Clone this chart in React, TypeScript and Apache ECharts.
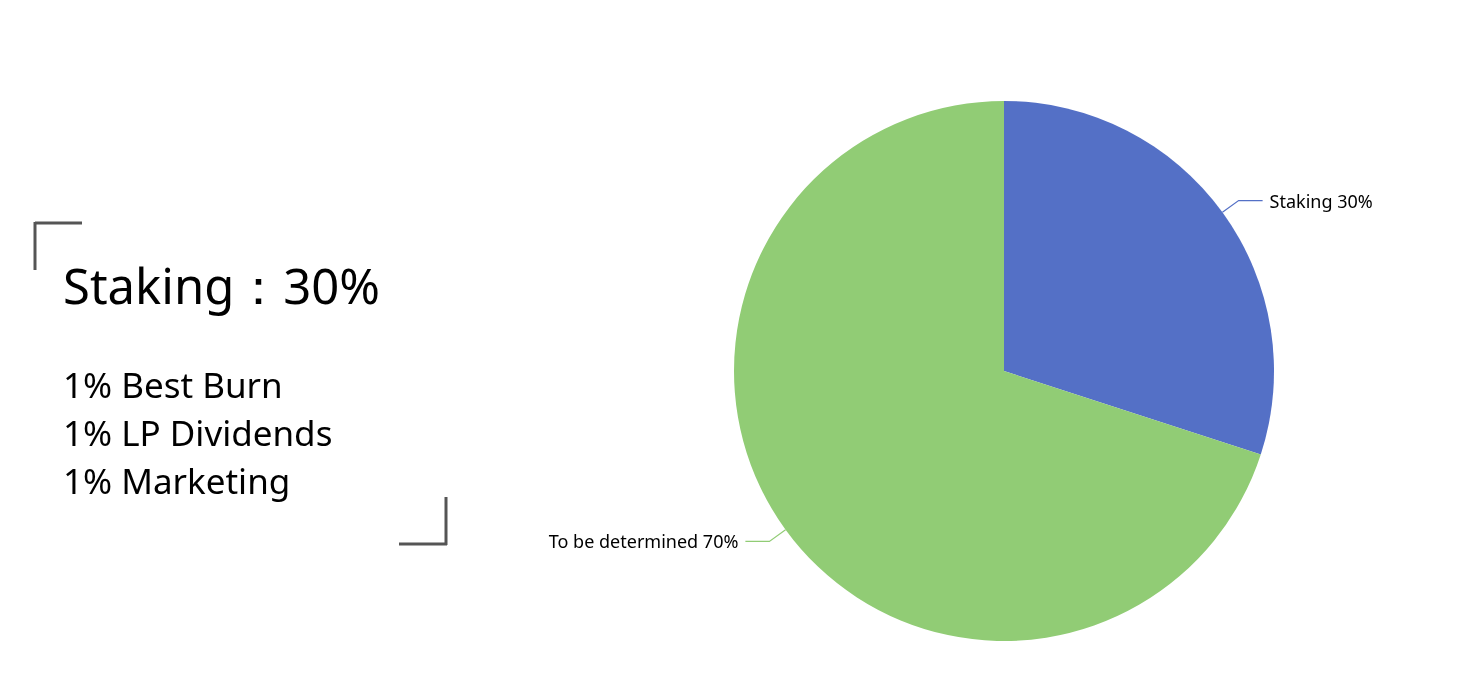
import React, { useEffect, useRef } from "react";
import * as echarts from "echarts";

const categories = ["Staking", "To be determined"];
const values = [30, 70];
const colors = ["#5470c6", "#91cc75"];
const headline = "Staking：30%";
const details = ["1% Best Burn", "1% LP Dividends", "1% Marketing"];

export default function App() {
  const ref = useRef<HTMLDivElement>(null);
  useEffect(() => {
    document.body.style.margin = "0";
    const chart = echarts.init(ref.current!, null, { renderer: "svg" });
    const font = "'Noto Sans', 'Open Sans', sans-serif";
    const lineStyle = { stroke: "#555", lineWidth: 3 };
    chart.setOption({
      animation: false,
      series: [
        {
          type: "pie",
          center: [1004, 371],
          radius: 270,
          startAngle: 90,
          data: categories.map((c, i) => ({
            name: c,
            value: values[i],
            itemStyle: { color: colors[i] },
          })),
          label: {
            formatter: "{b} {d}%",
            fontSize: 18,
            color: "#000",
            fontFamily: font,
            distanceToLabelLine: 7,
          },
          labelLine: { length: 20, length2: 24, lineStyle: { width: 1.2 } },
          emphasis: { disabled: true },
        },
      ],
      graphic: [
        { type: "line", shape: { x1: 35, y1: 223, x2: 82, y2: 223 }, style: lineStyle },
        { type: "line", shape: { x1: 35, y1: 222, x2: 35, y2: 270 }, style: lineStyle },
        { type: "line", shape: { x1: 399, y1: 544, x2: 447, y2: 544 }, style: lineStyle },
        { type: "line", shape: { x1: 446, y1: 497, x2: 446, y2: 545 }, style: lineStyle },
        {
          type: "text",
          x: 63,
          y: 285,
          style: {
            text: headline,
            fontSize: 49,
            fontFamily: font,
            fill: "#000",
            textVerticalAlign: "middle",
          },
        },
        ...details.map((d, i) => ({
          type: "text",
          x: 63,
          y: 384 + i * 48,
          style: {
            text: d,
            fontSize: 35,
            fontFamily: font,
            fill: "#000",
            textVerticalAlign: "middle",
          },
        })),
      ],
    });
    return () => chart.dispose();
  }, []);
  return <div ref={ref} style={{ position: "fixed", left: 0, top: 0, width: 1465, height: 695 }} />;
}
